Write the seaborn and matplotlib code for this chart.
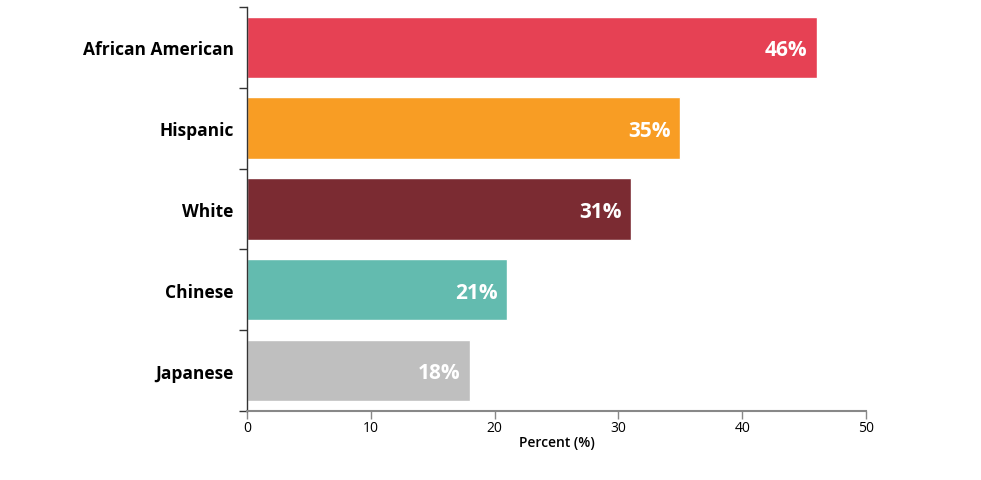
import matplotlib
matplotlib.use("Agg")
import matplotlib.pyplot as plt
import seaborn as sns
import pandas as pd

# data
groups = ["African American", "Hispanic", "White", "Chinese", "Japanese"]
percent = [46, 35, 31, 21, 18]
colors = ["#E64154", "#F89D24", "#7B2B32", "#63BBAF", "#BFBFBF"]

sns.set_style("white")
plt.rcParams['font.family'] = ['Open Sans', 'DejaVu Sans']
plt.rcParams['text.color'] = 'black'
plt.rcParams['axes.labelcolor'] = 'black'
plt.rcParams['xtick.labelcolor'] = 'black'
plt.rcParams['ytick.labelcolor'] = 'black'

df = pd.DataFrame({"group": groups, "percent": percent})

fig = plt.figure(figsize=(9.81, 4.81), dpi=100)
ax = fig.add_axes([0.2518, 0.1435, 0.631, 0.84])

sns.barplot(data=df, x="percent", y="group", hue="group", palette=colors,
            order=groups, hue_order=groups, width=0.76, legend=False,
            saturation=1, ax=ax)

for i, v in enumerate(percent):
    ax.text(v - 0.75, i + 0.03, f"{v}%", ha="right", va="center", color="white",
            fontsize=15, fontweight="bold")

ax.set_xlim(0, 50)
ax.set_ylim(4.5, -0.5)
ax.set_xticks([0, 10, 20, 30, 40, 50])
ax.set_xlabel("Percent (%)", fontsize=10, fontweight="semibold", labelpad=0)
ax.set_ylabel("")

# category labels without ticks, boundary ticks as minor
ax.set_yticks(range(len(groups)))
ax.set_yticklabels(groups, fontsize=12.5, fontweight="bold")
ax.set_yticks([i - 0.5 for i in range(len(groups) + 1)], minor=True)
ax.tick_params(axis="y", which="major", length=0, pad=9.5)
ax.tick_params(axis="y", which="minor", length=6, width=1, color="#333333", direction="out", left=True)
ax.tick_params(axis="x", length=6, width=1, color="#888888", labelsize=10, pad=0.5, bottom=True)

sns.despine(ax=ax, top=True, right=True)
ax.spines["left"].set_color("#333333")
ax.spines["bottom"].set_color("#888888")
ax.spines["left"].set_linewidth(1)
ax.spines["bottom"].set_linewidth(1.5)

fig.savefig("out.png", dpi=100)
